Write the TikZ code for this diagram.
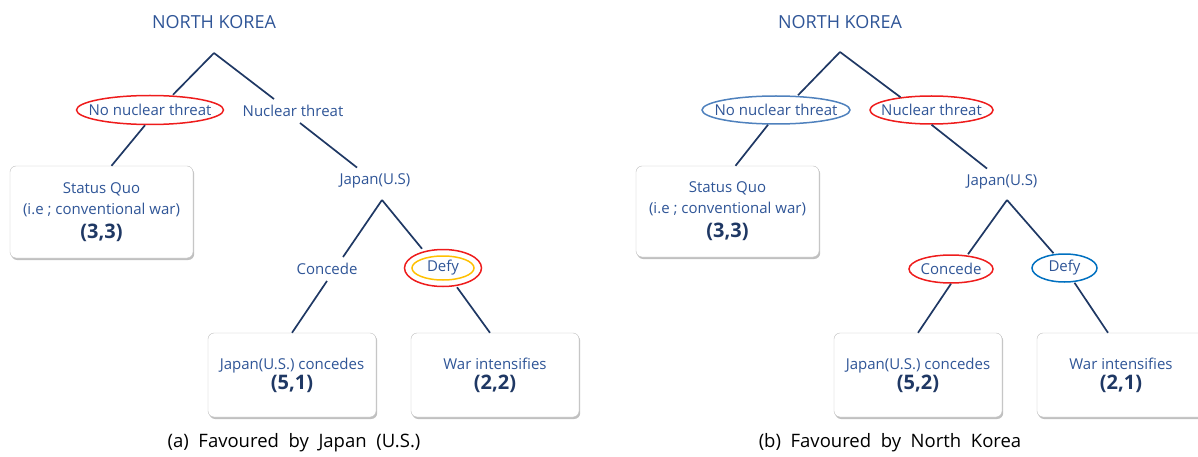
\documentclass[tikz,border=0pt]{standalone}
\usepackage{fontspec}
\setmainfont{Open Sans}
\usepackage{xcolor}
\usepackage{tikz}
\usetikzlibrary{shapes.geometric, shadows, positioning, calc}
\definecolor{labelblue}{RGB}{47, 85, 151}
\definecolor{navy}{RGB}{31, 56, 100}
\definecolor{hired}{RGB}{238, 28, 28}
\definecolor{hiyellow}{RGB}{255, 192, 0}
\definecolor{histeel}{RGB}{79, 129, 189}
\definecolor{hiblue}{RGB}{0, 112, 192}
\definecolor{boxgray}{RGB}{190, 190, 190}

\begin{document}
\begin{tikzpicture}[
    x=1pt, y=-1pt,
    title/.style={font=\fontsize{18}{22}\selectfont, text=labelblue},
    choice/.style={font=\fontsize{15}{18}\selectfont, text=labelblue,
                   inner xsep=1pt, inner ysep=6pt},
    ring/.style={ellipse, draw=#1, line width=1.5pt, inner sep=0pt},
    outcome/.style={rectangle, draw=boxgray, fill=white, rounded corners=6pt,
                    minimum width=168pt, minimum height=84pt, align=center,
                    text=labelblue, font=\fontsize{15}{21}\selectfont,
                    drop shadow={shadow xshift=1.2pt, shadow yshift=-2pt, fill=black!55, opacity=.45}},
    branch/.style={navy, line width=1.7pt},
    caption/.style={font=\fontsize{18.5}{22}\selectfont, text=black}
]
\useasboundingbox (0,0) rectangle (1198,457);

% (a) Japan (U.S.)
\node[title] (Ltitle) at (214,22) {NORTH KOREA};
\coordinate (Ltop) at (214,53);
\node[choice] (Lnnt) at (150,110) {No nuclear threat};
\node[ring=hired, minimum width=147pt, minimum height=29pt] (Lnntring) at (Lnnt) {};
\node[choice] (Lnt) at (293,111) {Nuclear threat};
\node[outcome, minimum width=183pt, minimum height=92pt] (Lsq) at (101.5,212)
    {Status Quo\\(i.e ; conventional war)\\[3pt]{\textcolor{navy}{\bfseries\fontsize{20}{24}\selectfont (3,3)}}};
\node[choice] (Ljp) at (375,181) {Japan(U.S)};
\coordinate (Ljfork) at (382,200);
\node[choice] (Lcon) at (327,269) {Concede};
\node[choice] (Ldefy) at (443,268) {Defy};
\node[ring=hired, minimum width=77pt, minimum height=37pt] (Ldefyring) at (Ldefy) {};
\node[ring=hiyellow, minimum width=62pt, minimum height=24pt] (Ldefyinner) at (Ldefy) {};
\node[outcome] (Lcnc) at (292,375)
    {Japan(U.S.) concedes\\[-1pt]{\textcolor{navy}{\bfseries\fontsize{20}{24}\selectfont (5,1)}}};
\node[outcome] (Lwar) at (495,375)
    {War intensifies\\[-1pt]{\textcolor{navy}{\bfseries\fontsize{20}{24}\selectfont (2,2)}}};
\node[caption] (Lcap) at (294,443) {(a)\ \ Favoured\ \ by\ \ Japan\ \ (U.S.)};

\draw[branch] (Ltop) -- ([xshift=23pt]Lnntring.north);
\draw[branch] (Ltop) -- ([xshift=-19pt]Lnt.north);
\draw[branch] ([xshift=-5pt]Lnntring.south) -- ([xshift=10pt]Lsq.north);
\draw[branch] ([xshift=7pt]Lnt.south) -- ([xshift=-18pt]Ljp.north);
\draw[branch] (Ljfork) -- ([xshift=16pt]Lcon.north);
\draw[branch] (Ljfork) -- ([xshift=-21pt]Ldefyring.north);
\draw[branch] (Lcon.south) -- (Lcnc.north);
\draw[branch] ([xshift=14pt]Ldefyring.south) -- ([xshift=-5pt]Lwar.north);

% (b) North Korea
\node[title] (Rtitle) at (840,22) {NORTH KOREA};
\coordinate (Rtop) at (840,52);
\node[choice] (Rnnt) at (776,110) {No nuclear threat};
\node[ring=histeel, minimum width=148pt, minimum height=28pt] (Rnntring) at (Rnnt) {};
\node[choice] (Rnt) at (931.5,110) {Nuclear threat};
\node[ring=hired, minimum width=123pt, minimum height=28pt] (Rntring) at (Rnt) {};
\node[outcome, minimum width=183pt, minimum height=91pt] (Rsq) at (727.5,211.5)
    {Status Quo\\(i.e ; conventional war)\\[3pt]{\textcolor{navy}{\bfseries\fontsize{20}{24}\selectfont (3,3)}}};
\node[choice] (Rjp) at (1002,182) {Japan(U.S)};
\coordinate (Rjfork) at (1007,200);
\node[choice] (Rcon) at (951,269) {Concede};
\node[ring=hired, minimum width=84pt, minimum height=28pt] (Rconring) at (Rcon) {};
\node[choice] (Rdefy) at (1064.5,268) {Defy};
\node[ring=hiblue, minimum width=65pt, minimum height=28pt] (Rdefyring) at (Rdefy) {};
\node[outcome] (Rcnc) at (918,375)
    {Japan(U.S.) concedes\\[-1pt]{\textcolor{navy}{\bfseries\fontsize{20}{24}\selectfont (5,2)}}};
\node[outcome] (Rwar) at (1121,375)
    {War intensifies\\[-1pt]{\textcolor{navy}{\bfseries\fontsize{20}{24}\selectfont (2,1)}}};
\node[caption] (Rcap) at (890,443) {(b)\ \ Favoured\ \ by\ \ North\ \ Korea};

\draw[branch] (Rtop) -- ([xshift=22pt]Rnntring.north);
\draw[branch] (Rtop) -- ([xshift=-31pt,yshift=-2pt]Rntring.north);
\draw[branch] ([xshift=-8pt]Rnntring.south) -- ([xshift=8pt]Rsq.north);
\draw[branch] (Rntring.south) -- ([xshift=-15pt]Rjp.north);
\draw[branch] (Rjfork) -- ([xshift=17pt]Rconring.north);
\draw[branch] (Rjfork) -- ([xshift=-11pt]Rdefyring.north);
\draw[branch] (Rconring.south) -- (Rcnc.north);
\draw[branch] ([xshift=10pt]Rdefyring.south) -- ([xshift=-13pt]Rwar.north);

\end{tikzpicture}
\end{document}
